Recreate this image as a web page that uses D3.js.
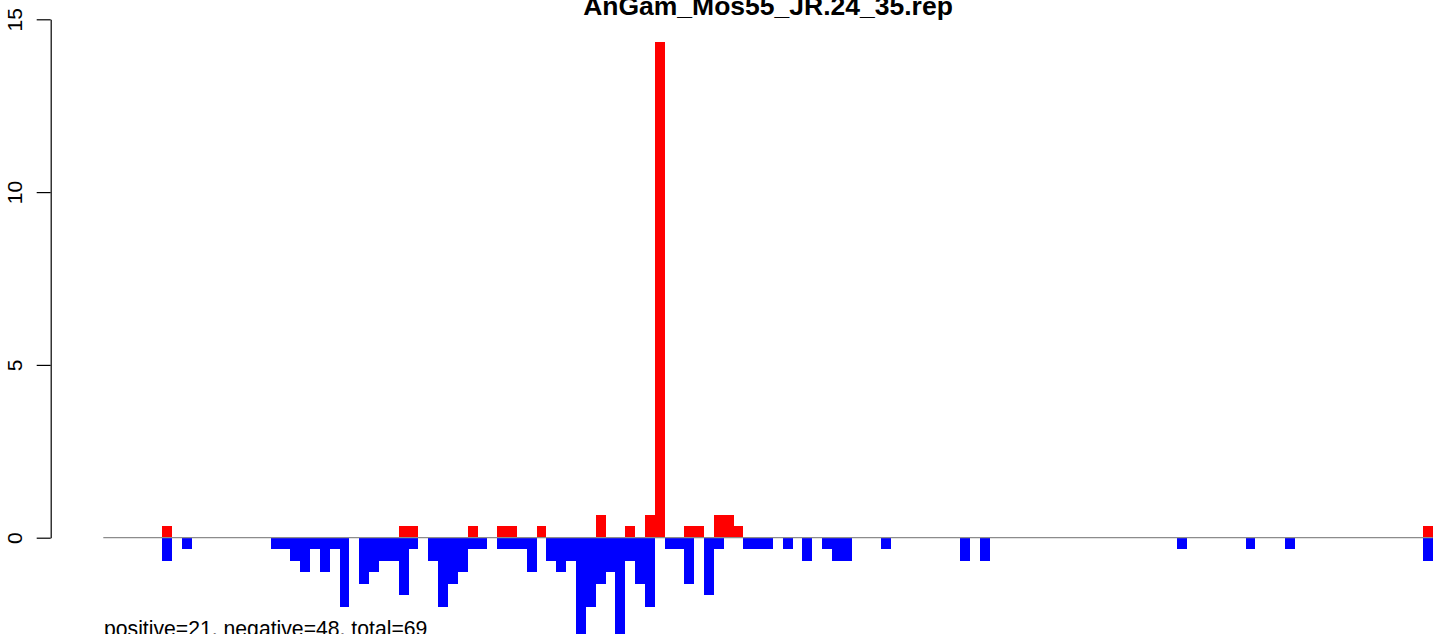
<!DOCTYPE html>
<html>
<head>
<meta charset="utf-8">
<script src="https://cdn.jsdelivr.net/npm/d3@7"></script>
<style>
  html, body { margin: 0; padding: 0; background: #ffffff; }
  svg { display: block; font-family: "Liberation Sans", Arial, Helvetica, sans-serif; }
</style>
</head>
<body>
<svg id="chart" width="1444" height="634"></svg>
<script>
// ---- data ----
const title = "AnGam_Mos55_JR.24_35.rep";
const footer = "positive=21, negative=48, total=69";
const binCount = 135;
const yTicks = [0, 5, 10, 15];

// positive bars: bin index and height
const posBins   = [6, 30, 31, 37, 40, 41, 44, 50, 53, 55, 56, 59, 60, 62, 63, 64, 134];
const posValues = [0.333, 0.333, 0.333, 0.333, 0.333, 0.333, 0.333, 0.667, 0.333, 0.667, 14.333, 0.333, 0.333, 0.667, 0.667, 0.333, 0.333];

// negative bars: bin index and height
const negBins   = [6, 8, 17, 18, 19, 20, 21, 22, 23, 24, 26, 27, 28, 29, 30, 31, 33, 34, 35, 36, 37, 38,
                   40, 41, 42, 43, 45, 46, 47, 48, 49, 50, 51, 52, 53, 54, 55, 57, 58, 59, 61, 62,
                   65, 66, 67, 69, 71, 73, 74, 75, 79, 87, 89, 109, 116, 120, 134];
const negValues = [-0.667, -0.333, -0.333, -0.333, -0.667, -1, -0.333, -1, -0.333, -2, -1.333, -1, -0.667, -0.667, -1.667, -0.333, -0.667, -2, -1.333, -1, -0.333, -0.333,
                   -0.333, -0.333, -0.333, -1, -0.667, -1, -0.667, -3, -2, -1.333, -1, -3, -0.667, -1.333, -2, -0.333, -0.333, -1.333, -1.667, -0.333,
                   -0.333, -0.333, -0.333, -0.333, -0.667, -0.333, -0.667, -0.667, -0.333, -0.667, -0.667, -0.333, -0.333, -0.333, -0.667];

// ---- layout ----
const svg = d3.select("#chart");
const bins = d3.range(binCount);

const x = d3.scaleBand().domain(bins).range([103.3, 1432.7]).padding(0);
const y = d3.scaleLinear().domain([0, 15]).range([537.7, 19.3]);
const axisX = 50.7;

svg.append("rect").attr("width", 1444).attr("height", 634).attr("fill", "#ffffff");

const pos = posBins.map((b, i) => ({ bin: b, v: posValues[i] }));
const neg = negBins.map((b, i) => ({ bin: b, v: negValues[i] }));

svg.append("g").attr("shape-rendering", "crispEdges")
  .selectAll("rect").data(pos).join("rect")
  .attr("x", d => x(d.bin))
  .attr("width", x.bandwidth())
  .attr("y", d => y(d.v))
  .attr("height", d => y(0) - y(d.v))
  .attr("fill", "#ff0000");

svg.append("g").attr("shape-rendering", "crispEdges")
  .selectAll("rect").data(neg).join("rect")
  .attr("x", d => x(d.bin))
  .attr("width", x.bandwidth())
  .attr("y", y(0))
  .attr("height", d => y(d.v) - y(0))
  .attr("fill", "#0000ff");

// zero line
svg.append("line")
  .attr("x1", x.range()[0]).attr("x2", x.range()[1])
  .attr("y1", y(0)).attr("y2", y(0))
  .attr("stroke", "#8c8c8c").attr("stroke-width", 1.3);

// y axis
const yAxis = d3.axisLeft(y).tickValues(yTicks).tickSize(14).tickSizeOuter(0).tickFormat(d3.format("d"));
const gAxis = svg.append("g").attr("transform", `translate(${axisX},0)`).call(yAxis);
gAxis.select(".domain").attr("stroke", "#000").attr("stroke-width", 1.2);
gAxis.selectAll(".tick line").attr("stroke", "#000").attr("stroke-width", 1.2);
gAxis.selectAll(".tick text")
  .attr("transform", "rotate(-90)")
  .attr("x", 0).attr("y", -29).attr("dy", 0)
  .attr("text-anchor", "middle")
  .attr("fill", "#000")
  .style("font-size", "21px")
  .style("font-family", "'Liberation Sans', Arial, Helvetica, sans-serif");

// title
svg.append("text")
  .attr("x", 768).attr("y", 15)
  .attr("text-anchor", "middle")
  .attr("font-weight", "bold")
  .attr("font-size", "26.5px")
  .attr("fill", "#000")
  .text(title);

// footer
svg.append("text")
  .attr("x", 104).attr("y", 636)
  .attr("font-size", "21.2px")
  .attr("fill", "#000")
  .text(footer);
</script>
</body>
</html>
